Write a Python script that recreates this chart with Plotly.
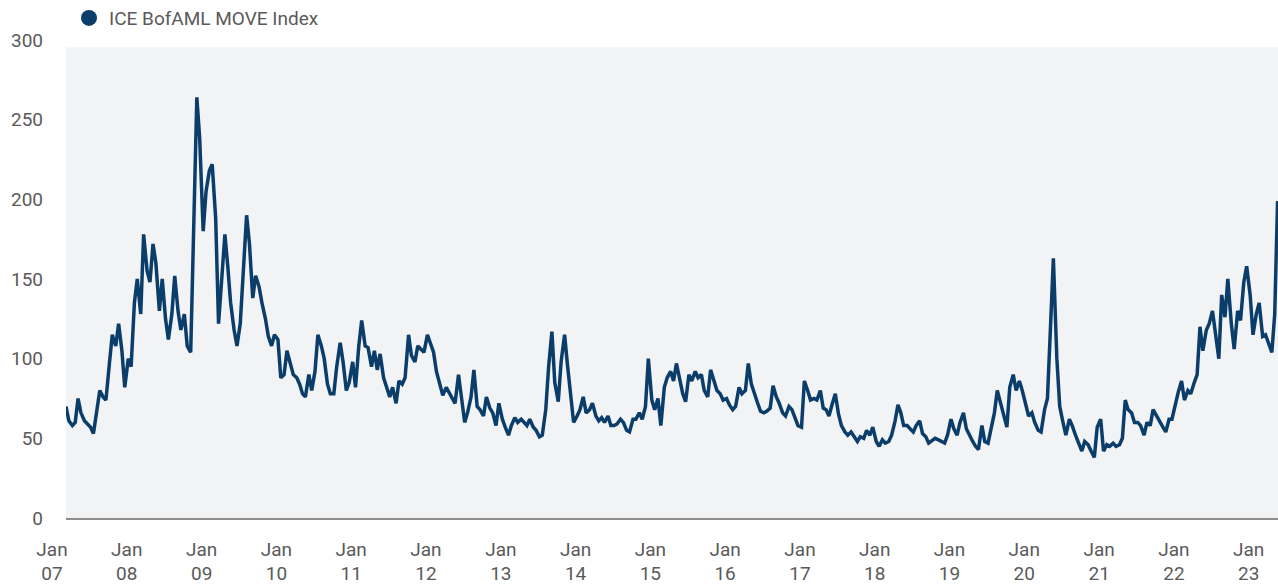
import pandas as pd
import plotly.graph_objects as go

# Semi-monthly observation dates (1st and 15th of each month)
dates = pd.date_range("2007-01-01", "2023-03-15", freq="SMS")

move_2007 = [70, 61, 58, 60, 75, 66, 61, 59, 57, 53, 70, 80, 76, 74, 97, 115, 108, 122, 105, 82, 100, 95, 135, 150]
move_2008 = [128, 178, 155, 148, 172, 160, 130, 150, 125, 112, 128, 152, 130, 118, 128, 108, 104, 170, 264, 238, 180, 205, 218, 222]
move_2009 = [188, 122, 150, 178, 158, 135, 118, 108, 122, 150, 190, 172, 138, 152, 145, 135, 125, 114, 108, 115, 112, 88, 90, 105]
move_2010 = [97, 90, 88, 84, 78, 76, 90, 80, 92, 115, 108, 100, 84, 78, 78, 95, 110, 98, 80, 85, 98, 82, 108, 124]
move_2011 = [108, 107, 95, 105, 93, 103, 88, 82, 76, 82, 72, 86, 84, 88, 115, 102, 98, 108, 106, 104, 115, 110, 104, 92]
move_2012 = [84, 77, 82, 79, 75, 72, 90, 74, 60, 66, 76, 93, 70, 68, 64, 76, 69, 66, 58, 72, 62, 57, 52, 58]
move_2013 = [63, 60, 62, 60, 58, 62, 57, 55, 51, 52, 68, 95, 117, 85, 73, 98, 115, 96, 76, 60, 64, 68, 76, 66]
move_2014 = [68, 72, 64, 61, 63, 60, 64, 58, 58, 59, 62, 60, 55, 54, 62, 62, 66, 62, 70, 100, 74, 68, 75, 58]
move_2015 = [82, 88, 92, 86, 97, 88, 78, 73, 90, 86, 92, 88, 90, 80, 76, 93, 86, 80, 78, 74, 75, 71, 68, 70]
move_2016 = [82, 78, 80, 97, 84, 78, 72, 67, 66, 67, 69, 83, 76, 72, 66, 64, 70, 68, 62, 58, 57, 86, 80, 74]
move_2017 = [75, 74, 80, 69, 68, 64, 72, 78, 65, 58, 54, 52, 54, 51, 48, 51, 50, 55, 52, 57, 48, 45, 49, 47]
move_2018 = [48, 52, 61, 71, 66, 58, 58, 56, 54, 58, 61, 53, 51, 47, 49, 50, 49, 48, 47, 52, 62, 56, 52, 60]
move_2019 = [66, 56, 51, 48, 45, 43, 58, 48, 47, 56, 66, 80, 72, 64, 57, 82, 90, 80, 86, 80, 70, 64, 66, 60]
move_2020 = [55, 54, 68, 75, 120, 163, 100, 70, 60, 52, 62, 58, 52, 47, 42, 48, 46, 42, 38, 57, 62, 42, 46, 45]
move_2021 = [47, 45, 46, 50, 74, 68, 66, 60, 60, 58, 52, 60, 58, 68, 64, 60, 57, 54, 62, 62, 72, 79, 86, 74]
move_2022 = [80, 78, 85, 90, 120, 105, 118, 122, 130, 115, 100, 140, 126, 150, 122, 106, 130, 124, 148, 158, 140, 115, 128, 135]
move_2023 = [114, 115, 108, 104, 128, 199]

move_index = (move_2007 + move_2008 + move_2009 + move_2010 + move_2011 + move_2012 +
              move_2013 + move_2014 + move_2015 + move_2016 + move_2017 + move_2018 +
              move_2019 + move_2020 + move_2021 + move_2022 + move_2023)

tick_years = list(range(2007, 2024))
tick_vals = [f"{y}-01-01" for y in tick_years]
tick_text = [f"Jan<br>{y % 100:02d}" for y in tick_years]
y_ticks = [0, 50, 100, 150, 200, 250, 300]

series_name = "ICE BofAML MOVE Index"
NAVY = "#0b3d6b"
TEXT = "#5a5a5a"

fig = go.Figure()
fig.add_trace(go.Scatter(
    x=dates, y=move_index, mode="lines",
    line=dict(color=NAVY, width=3.5), showlegend=False, name=series_name,
))
fig.add_trace(go.Scatter(
    x=[None], y=[None], mode="markers",
    marker=dict(color=NAVY, size=16, symbol="circle"),
    name=series_name, showlegend=True,
))

fig.update_layout(
    width=1278, height=584,
    margin=dict(l=66, r=0, t=40, b=66, autoexpand=False),
    paper_bgcolor="white",
    plot_bgcolor="white",
    font=dict(family="Roboto, Arial, sans-serif", color=TEXT, size=19),
    showlegend=True,
    legend=dict(
        orientation="h", xref="container", yref="container",
        x=0.054, y=0.969, xanchor="left", yanchor="middle",
        font=dict(size=19, color=TEXT), bgcolor="rgba(0,0,0,0)",
        itemsizing="trace",
    ),
    shapes=[dict(
        type="rect", xref="paper", yref="paper", x0=0, x1=1, y0=0, y1=0.985,
        fillcolor="#f2f3f5", line=dict(width=0), layer="below",
    )],
)
fig.update_xaxes(
    type="date", range=[dates[0], "2023-03-17"],
    tickmode="array", tickvals=tick_vals, ticktext=tick_text,
    showgrid=False, zeroline=False, showline=True,
    linecolor="#8c8c8c", linewidth=1.5, ticks="",
    ticklabelshift=-14, ticklabelstandoff=13,
    tickfont=dict(size=19, color=TEXT),
)
fig.update_yaxes(
    range=[0, 300], tickmode="array", tickvals=y_ticks,
    showgrid=False, zeroline=False, showline=False, ticks="",
    ticklabelstandoff=22, tickfont=dict(size=19, color=TEXT),
)

fig.write_html(
    "out.html",
    config={"displayModeBar": False},
    post_script="document.body.style.margin='0';document.body.style.overflow='hidden';",
)
